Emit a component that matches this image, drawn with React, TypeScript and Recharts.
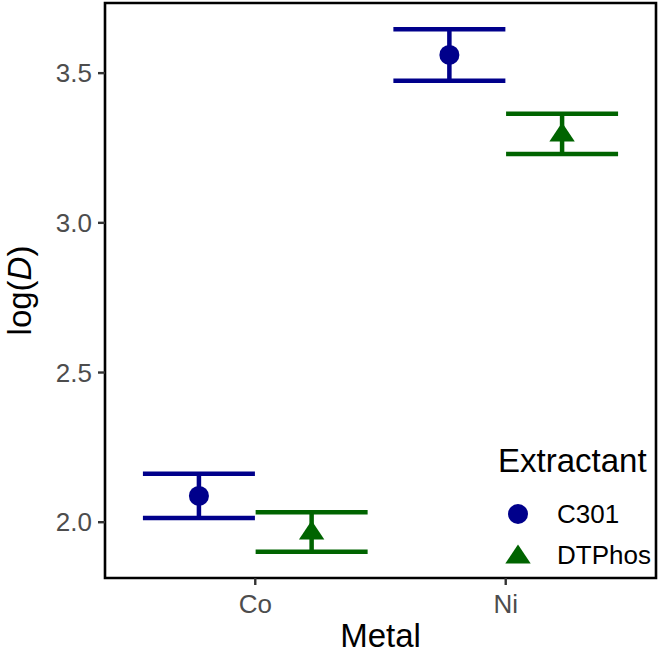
import React from 'react';
import { ScatterChart, Scatter, XAxis, YAxis, ErrorBar, ReferenceArea, Legend, Label } from 'recharts';

const categories = ['Co', 'Ni'];
const seriesNames = ['C301', 'DTPhos'];
const c301Mean = [2.088, 3.561];
const c301Err = [0.074, 0.086];
const dtphosMean = [1.967, 3.297];
const dtphosErr = [0.066, 0.067];
const yTicks = [2.0, 2.5, 3.0, 3.5];

const BLUE = '#00008B';
const GREEN = '#006400';
const FONT = "'Liberation Sans', Arial, Helvetica, sans-serif";

const dodge = 0.225;
const xDomain: [number, number] = [0.4, 2.6];
const yDomain: [number, number] = [1.8137, 3.7343];

const c301Data = categories.map((c, i) => ({ metal: c, x: i + 1 - dodge, y: c301Mean[i], err: c301Err[i] }));
const dtphosData = categories.map((c, i) => ({ metal: c, x: i + 1 + dodge, y: dtphosMean[i], err: dtphosErr[i] }));

const CircleShape = (p: any) => <circle cx={p.cx} cy={p.cy} r={10} fill={BLUE} />;
const triPoints = (cx: number, cy: number) =>
  `${cx},${cy - 11.5} ${cx + 12.7},${cy + 7.5} ${cx - 12.7},${cy + 7.5}`;
const TriangleShape = (p: any) => <polygon points={triPoints(p.cx, p.cy)} fill={GREEN} />;

const LegendBox = () => (
  <svg width={170} height={140} style={{ display: 'block', overflow: 'visible' }}>
    <text x={8} y={32} fontSize={33} fill="#000" fontFamily={FONT}>Extractant</text>
    <circle cx={28} cy={74} r={10} fill={BLUE} />
    <polygon points={triPoints(28, 116)} fill={GREEN} />
    <text x={67} y={83.3} fontSize={26} fill="#000" fontFamily={FONT}>{seriesNames[0]}</text>
    <text x={67} y={124.3} fontSize={26} fill="#000" fontFamily={FONT}>{seriesNames[1]}</text>
  </svg>
);

const YTitle = (props: any) => {
  const vb = props.viewBox || { y: 3, height: 575 };
  const cx = 31;
  const cy = vb.y + vb.height / 2;
  return (
    <text x={cx} y={cy} transform={`rotate(-90 ${cx} ${cy})`} textAnchor="middle" fontSize={33} fill="#000" fontFamily={FONT}>
      log(<tspan fontStyle="italic">D</tspan>)
    </text>
  );
};

export default function App() {
  return (
    <div style={{ position: 'absolute', left: 0, top: 0 }}>
      <ScatterChart width={661} height={655} margin={{ top: 3, right: 5, left: 0, bottom: 0 }} style={{ fontFamily: FONT }}>
        <XAxis
          type="number"
          dataKey="x"
          domain={xDomain}
          ticks={[1, 2]}
          tickFormatter={(v: number) => categories[Math.round(v) - 1]}
          height={77}
          axisLine={false}
          tickSize={7}
          tickMargin={9.5}
          tickLine={{ stroke: '#333333', strokeWidth: 2.4 }}
          tick={{ fill: '#4D4D4D', fontSize: 26 }}
          allowDataOverflow
        >
          <Label value="Metal" position="insideBottom" offset={8} fontSize={33} fill="#000" />
        </XAxis>
        <YAxis
          type="number"
          dataKey="y"
          domain={yDomain}
          ticks={yTicks}
          tickFormatter={(v: number) => v.toFixed(1)}
          width={105}
          axisLine={false}
          tickSize={7}
          tickMargin={6}
          tickLine={{ stroke: '#333333', strokeWidth: 2.4 }}
          tick={{ fill: '#4D4D4D', fontSize: 26 }}
          allowDataOverflow
        >
          <Label content={YTitle} />
        </YAxis>
        <ReferenceArea
          x1={xDomain[0]}
          x2={xDomain[1]}
          y1={yDomain[0]}
          y2={yDomain[1]}
          fill="none"
          fillOpacity={0}
          stroke="#000"
          strokeWidth={2.6}
          ifOverflow="visible"
        />
        <Scatter name={seriesNames[0]} data={c301Data} dataKey="y" fill={BLUE} shape={CircleShape} isAnimationActive={false}>
          <ErrorBar dataKey="err" direction="y" width={56} stroke={BLUE} strokeWidth={4.5} isAnimationActive={false} />
        </Scatter>
        <Scatter name={seriesNames[1]} data={dtphosData} dataKey="y" fill={GREEN} shape={TriangleShape} isAnimationActive={false}>
          <ErrorBar dataKey="err" direction="y" width={56} stroke={GREEN} strokeWidth={4.5} isAnimationActive={false} />
        </Scatter>
        <Legend
          layout="horizontal"
          verticalAlign="middle"
          align="center"
          wrapperStyle={{ left: 490, top: 440, width: 170, height: 140 }}
          content={() => <LegendBox />}
        />
      </ScatterChart>
    </div>
  );
}
